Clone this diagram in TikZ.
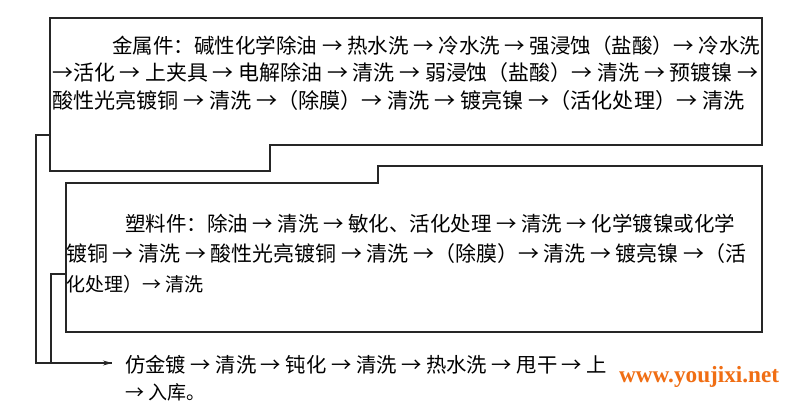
\documentclass[tikz,border=0pt]{standalone}
\usepackage{fontspec}
\usetikzlibrary{arrows.meta}
\newfontfamily\cjk{Noto Sans CJK SC}
\newfontfamily\wm{Liberation Serif}
\begin{document}
\begin{tikzpicture}[x=1pt,y=-1pt,
 ln/.style={draw=black!85,line width=1.1pt},
 tx/.style={anchor=west,inner sep=0pt,font=\cjk\fontsize{16}{16}\selectfont},
 tb/.style={anchor=west,inner sep=0pt,font=\cjk\fontsize{19}{19}\selectfont},
 ]
\useasboundingbox[fill=white] (0,0) rectangle (800,414);
\draw[ln] (50,18) -- (762,18) -- (762,145) -- (270,145) -- (270,171) -- (50,171) -- cycle;
\draw[ln] (66,183) -- (378,183) -- (378,166) -- (762,166) -- (762,332) -- (66,332) -- cycle;
\coordinate (a1) at (50,135); \coordinate (a2) at (66,274);
\coordinate (e) at (112,363);
\draw[ln] (a1) -- (36,135) -- (36,363) -- (e);
\draw[ln] (a2) -- (51,274) -- (51,363);
\draw[ln,-{Stealth[length=9pt,width=5pt]}] (60,363) -- (e);
\node[tx] (t1) at (112,46) {\resizebox{648pt}{!}{金属件：碱性化学除油 → 热水洗 → 冷水洗 → 强浸蚀（盐酸）→ 冷水洗}};
\node[tx] (t2) at (52,73) {\resizebox{706pt}{!}{→活化 → 上夹具 → 电解除油 → 清洗 → 弱浸蚀（盐酸）→ 清洗 → 预镀镍 →}};
\node[tx] (t3) at (52,100) {\resizebox{692pt}{!}{酸性光亮镀铜 → 清洗 →（除膜）→ 清洗 → 镀亮镍 →（活化处理）→ 清洗}};
\node[tx] (s1) at (125,224) {\resizebox{610pt}{!}{塑料件：除油 → 清洗 → 敏化、活化处理 → 清洗 → 化学镀镍或化学}};
\node[tx] (s2) at (66,254) {\resizebox{680pt}{!}{镀铜 → 清洗 → 酸性光亮镀铜 → 清洗 →（除膜）→ 清洗 → 镀亮镍 →（活}};
\node[tb] (s3) at (66,284) {化处理）→ 清洗};
\node[tx] (b1) at (125,365) {\resizebox{482pt}{!}{仿金镀 → 清洗 → 钝化 → 清洗 → 热水洗 → 甩干 → 上}};
\node[tb] (b2) at (125,392) {→ 入库。};
\node[anchor=west,inner sep=0pt,text={rgb,255:red,240;green,110;blue,20}] (w) at (619,377) {\resizebox{160pt}{!}{\wm\bfseries www.youjixi.net}};
\end{tikzpicture}
\end{document}
